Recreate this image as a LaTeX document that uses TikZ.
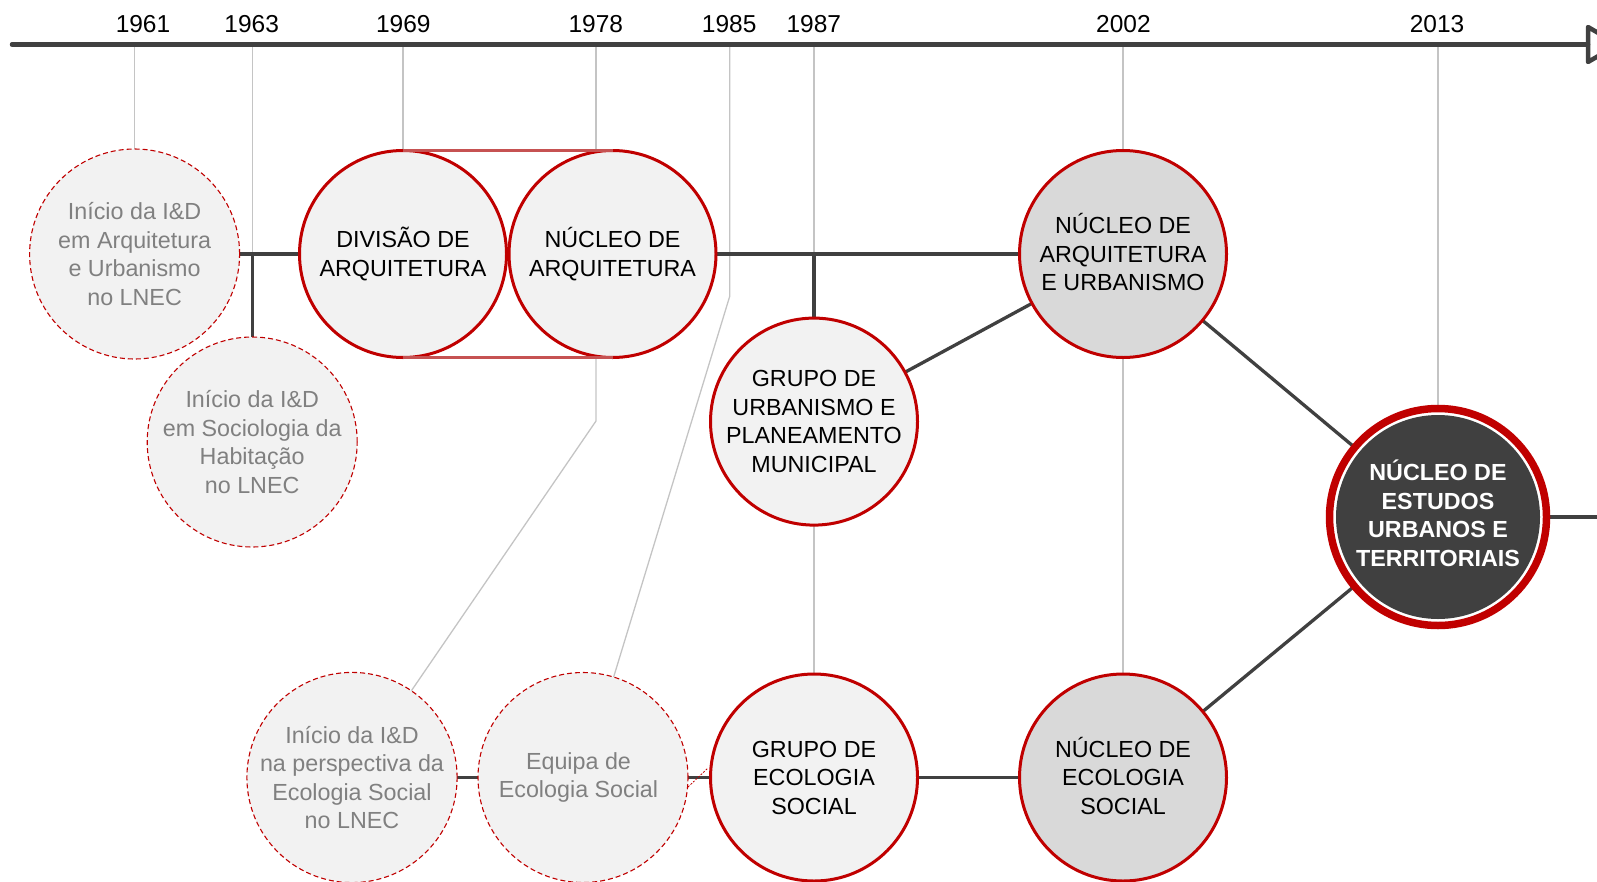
\documentclass[tikz,border=0pt]{standalone}
\usepackage{fontspec}
\setmainfont{Liberation Sans}
\usetikzlibrary{backgrounds}
\definecolor{dk}{HTML}{404040}
\definecolor{rd}{HTML}{C00000}
\definecolor{rl}{HTML}{C65252}
\definecolor{gl}{HTML}{C4C4C4}
\definecolor{fa}{HTML}{F2F2F2}
\definecolor{fb}{HTML}{D9D9D9}
\definecolor{gt}{HTML}{808080}
\begin{document}
\begin{tikzpicture}[x=1pt,y=-1pt,
  lbl/.style={font=\fontsize{23.3}{28.5}\selectfont, align=center},
  firm/.style={circle, draw=rd, line width=3pt, fill=fa, minimum size=207pt, inner sep=0pt, outer sep=0pt, lbl, text=black},
  firmdark/.style={firm, fill=fb},
  tent/.style={circle, draw=rd, line width=1.1pt, dash pattern=on 5pt off 3pt, fill=fa, minimum size=210pt, inner sep=0pt, outer sep=0pt, lbl, text=gt},
  guide/.style={draw=gl, line width=1.3pt},
  link/.style={draw=dk, line width=3.3pt},
  yearlbl/.style={font=\fontsize{24.5}{29}\selectfont, anchor=base, inner sep=0pt, text=black}
]
\useasboundingbox (0,0) rectangle (1597,881);

% timeline
\coordinate (tl0) at (12,44.5);
\coordinate (tl1) at (1588,44.5);
\draw[dk, line width=4.5pt, line cap=round] (tl0) -- (tl1);
\draw[dk, line width=4.5pt, line join=round] (1588,27) -- (1588,62) -- (1618,44.5) -- cycle;

% years
\node[yearlbl] (y1961) at (143,32.3) {1961};
\node[yearlbl] (y1963) at (251.7,32.3) {1963};
\node[yearlbl] (y1969) at (403.3,32.3) {1969};
\node[yearlbl] (y1978) at (595.8,32.3) {1978};
\node[yearlbl] (y1985) at (729.2,32.3) {1985};
\node[yearlbl] (y1987) at (813.8,32.3) {1987};
\node[yearlbl] (y2002) at (1123.4,32.3) {2002};
\node[yearlbl] (y2013) at (1437,32.3) {2013};

\coordinate (t1961) at (134.6,44.5);
\coordinate (t1963) at (252.2,44.5);
\coordinate (t1969) at (403,44.5);
\coordinate (t1978) at (596,44.5);
\coordinate (t1985) at (729.8,44.5);
\coordinate (t1987) at (814,44.5);
\coordinate (t2002) at (1123,44.5);
\coordinate (t2013) at (1438,44.5);

% circles
\node[tent] (c1) at (134.6,254) {Início da I\&D\\em Arquitetura\\e Urbanismo\\no LNEC};
\node[tent] (c2) at (252.2,442) {Início da I\&D\\em Sociologia da\\Habitação\\no LNEC};
\node[firm] (c3) at (403,254) {DIVISÃO DE\\ARQUITETURA};
\node[firm] (c4) at (612.5,254) {NÚCLEO DE\\ARQUITETURA};
\node[firm] (c5) at (814,421.6) {GRUPO DE\\URBANISMO E\\PLANEAMENTO\\MUNICIPAL};
\node[firmdark, text depth=4pt] (c6) at (1123,254) {NÚCLEO DE\\ARQUITETURA\\E URBANISMO};
\node[circle, draw=rd, line width=7.5pt, fill=white, minimum size=217pt, inner sep=0pt, outer sep=0pt,
      lbl, font=\fontsize{23.3}{28.5}\selectfont\bfseries, text=white, text depth=8pt,
      path picture={\fill[dk] (path picture bounding box.center) circle[radius=102pt];}]
      (c7) at (1438,517) {NÚCLEO DE\\ESTUDOS\\URBANOS E\\TERRITORIAIS};
\node[tent] (c8) at (352,777.5) {Início da I\&D\\na perspectiva da\\Ecologia Social\\no LNEC};
\node[tent] (c9) at (583,777.5) {Equipa de\kern9pt\\Ecologia Social\kern9pt};
\node[firm] (c10) at (814,777.5) {GRUPO DE\\ECOLOGIA\\SOCIAL};
\node[firmdark, text depth=4pt] (c11) at (1123,777.5) {NÚCLEO DE\\ECOLOGIA\\SOCIAL};

\coordinate (j1963) at (252.2,254);
\coordinate (j1987) at (814,254);
\coordinate (k1978) at (596,421);
\coordinate (k1985) at (729.8,296);
\coordinate (rEnd) at (1597,517);
\coordinate (d1) at (688,787);
\coordinate (d2) at (708,768);

% red band between Divisao and Nucleo
\draw[rl, line width=3pt] (c3.north) -- (c4.north) (c3.south) -- (c4.south);

\begin{pgfonlayer}{background}
  % guides
  \draw[guide] (t1961) -- (c1);
  \draw[guide] (t1963) -- (j1963);
  \draw[guide] (t1969) -- (c3);
  \draw[guide] (t1978) -- (t1978 |- c3.north);
  \draw[guide] (t1978 |- c3.south) -- (k1978) -- (c8);
  \draw[guide] (t1985) -- (k1985) -- (c9);
  \draw[guide] (t1987) -- (j1987);
  \draw[guide] (c5) -- (c10);
  \draw[guide] (t2002) -- (c6);
  \draw[guide] (c6) -- (c11);
  \draw[guide] (t2013) -- (c7);
  % links
  \draw[link] (c1) -- (c3);
  \draw[link] (j1963) -- (c2);
  \draw[link] (c4) -- (c6);
  \draw[link] (j1987) -- (c5);
  \draw[link] (c5) -- (c6);
  \draw[link] (c6) -- (c7);
  \draw[link] (c11) -- (c7);
  \draw[link] (c10) -- (c11);
  \draw[link] (c8) -- (c9);
  \draw[link] (c9) -- (c10);
  \draw[link] (c7) -- (rEnd);
  \draw[rd, line width=0.8pt, dash pattern=on 2pt off 1.5pt] (d1) -- (d2);
\end{pgfonlayer}
\end{tikzpicture}
\end{document}
